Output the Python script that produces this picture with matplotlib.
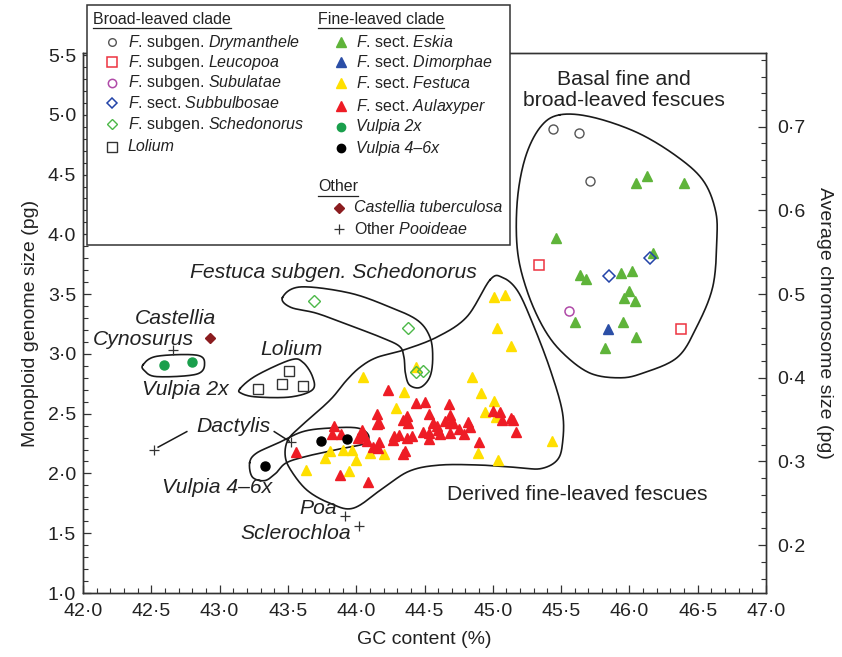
import numpy as np
import matplotlib
matplotlib.use('Agg')
import matplotlib.pyplot as plt
from matplotlib.lines import Line2D
from matplotlib.patches import Rectangle
from matplotlib.ticker import MultipleLocator, FuncFormatter

plt.rcParams['font.family'] = ['Liberation Sans', 'DejaVu Sans']
plt.rcParams['mathtext.fontset'] = 'custom'
plt.rcParams['mathtext.it'] = 'Liberation Sans:italic'
plt.rcParams['mathtext.rm'] = 'Liberation Sans'

# ---------------- data (GC content %, monoploid genome size pg) ----------------
drymanthele_x = [45.44, 45.63, 45.71]
drymanthele_y = [4.88, 4.85, 4.45]
leucopoa_x = [45.34, 46.38]
leucopoa_y = [3.74, 3.21]
subulatae_x = [45.56]
subulatae_y = [3.36]
subbulbosae_x = [45.85, 46.15]
subbulbosae_y = [3.65, 3.80]
schedonorus_x = [43.69, 44.38, 44.44, 44.49]
schedonorus_y = [3.44, 3.22, 2.85, 2.86]
lolium_x = [43.28, 43.46, 43.51, 43.61]
lolium_y = [2.71, 2.75, 2.86, 2.73]
eskia_x = [46.05, 46.13, 46.40, 45.46, 45.64, 45.68, 45.94, 46.02, 46.17, 46.00,
           45.96, 46.04, 45.60, 45.95, 46.05, 45.82]
eskia_y = [4.43, 4.49, 4.43, 3.97, 3.66, 3.63, 3.68, 3.69, 3.84, 3.53,
           3.47, 3.44, 3.27, 3.27, 3.14, 3.05]
dimorphae_x = [45.84]
dimorphae_y = [3.21]
festuca_x = [45.01, 45.09, 45.03, 45.13, 44.05, 44.44, 44.85, 44.35, 44.91, 45.01,
             44.29, 44.94, 45.02, 43.81, 43.90, 43.97, 43.77, 44.00, 44.10, 44.20,
             43.63, 43.95, 44.89, 45.04, 45.43]
festuca_y = [3.48, 3.49, 3.22, 3.07, 2.81, 2.89, 2.81, 2.68, 2.67, 2.61,
             2.55, 2.51, 2.47, 2.19, 2.20, 2.20, 2.13, 2.11, 2.17, 2.16,
             2.03, 2.02, 2.17, 2.11, 2.27]
aulaxyper_x = [44.23, 44.44, 44.50, 44.68, 44.15, 44.15, 44.17, 44.34, 44.37, 44.38,
               44.53, 44.56, 44.59, 44.65, 44.69, 44.69, 44.71, 44.82, 44.83, 44.75,
               44.79, 44.49, 44.53, 44.53, 44.60, 44.61, 44.69, 43.84, 43.82, 43.89,
               44.04, 44.01, 44.06, 44.08, 44.17, 44.12, 44.16, 44.28, 44.31, 44.27,
               44.37, 44.41, 44.36, 44.34, 44.90, 45.00, 45.05, 45.07, 45.13, 45.15,
               45.17, 43.88, 44.09, 44.05, 43.56]
aulaxyper_y = [2.70, 2.59, 2.60, 2.58, 2.50, 2.41, 2.42, 2.45, 2.48, 2.42,
               2.50, 2.42, 2.40, 2.44, 2.49, 2.42, 2.42, 2.43, 2.39, 2.37,
               2.33, 2.35, 2.34, 2.29, 2.36, 2.33, 2.34, 2.40, 2.33, 2.33,
               2.36, 2.30, 2.31, 2.27, 2.26, 2.22, 2.21, 2.31, 2.32, 2.28,
               2.30, 2.31, 2.19, 2.16, 2.26, 2.52, 2.51, 2.45, 2.46, 2.45,
               2.35, 1.99, 1.93, 2.33, 2.18]
vulpia2x_x = [42.59, 42.80]
vulpia2x_y = [2.91, 2.93]
vulpia46_x = [43.33, 43.74, 43.93]
vulpia46_y = [2.06, 2.27, 2.29]
castellia_x = [42.93]
castellia_y = [3.13]
pooideae_x = [42.66, 42.52, 43.52, 43.92, 44.02]
pooideae_y = [3.03, 2.20, 2.26, 1.64, 1.56]

x_ticks = [42.0, 42.5, 43.0, 43.5, 44.0, 44.5, 45.0, 45.5, 46.0, 46.5, 47.0]
y_ticks = [1.0, 1.5, 2.0, 2.5, 3.0, 3.5, 4.0, 4.5, 5.0, 5.5]
y2_ticks = [0.2, 0.3, 0.4, 0.5, 0.6, 0.7]
chrom_base = 7  # average chromosome size = monoploid genome size / 7

# group outlines (closed smooth curves, data coordinates)
basal_x = [45.49, 45.73, 46.06, 46.35, 46.54, 46.63, 46.64, 46.61, 46.49, 46.35,
           46.10, 45.93, 45.71, 45.51, 45.37, 45.25, 45.18, 45.18, 45.24, 45.35]
basal_y = [5.00, 4.98, 4.85, 4.65, 4.45, 4.20, 3.95, 3.56, 3.22, 2.97,
           2.84, 2.80, 2.84, 3.01, 3.22, 3.53, 3.87, 4.29, 4.65, 4.90]
derived_x = [44.98, 45.07, 45.18, 45.29, 45.42, 45.51, 45.51, 45.47, 45.35, 45.18,
             44.91, 44.61, 44.39, 44.20, 43.98, 43.81, 43.64, 43.52, 43.48, 43.50,
             43.59, 43.73, 43.83, 43.93, 44.03, 44.15, 44.34, 44.59, 44.81]
derived_y = [3.62, 3.64, 3.53, 3.26, 2.87, 2.51, 2.25, 2.11, 2.04, 2.05,
             2.07, 2.07, 2.02, 1.88, 1.71, 1.75, 1.86, 2.03, 2.15, 2.28,
             2.39, 2.53, 2.64, 2.78, 2.89, 2.97, 3.03, 3.14, 3.31]
sched_x = [43.46, 43.59, 43.95, 44.25, 44.45, 44.54, 44.56, 44.54, 44.47, 44.39,
           44.36, 44.35, 44.32, 44.20, 43.95, 43.71, 43.52]
sched_y = [3.47, 3.56, 3.51, 3.39, 3.28, 3.14, 2.97, 2.81, 2.72, 2.74,
           2.84, 2.97, 3.06, 3.13, 3.24, 3.34, 3.39]
lol_x = [43.15, 43.27, 43.52, 43.61, 43.68, 43.68, 43.52, 43.27, 43.16]
lol_y = [2.71, 2.82, 2.95, 2.93, 2.81, 2.70, 2.64, 2.64, 2.67]
v2_x = [42.44, 42.54, 42.83, 42.89, 42.83, 42.54, 42.45]
v2_y = [2.91, 2.98, 2.99, 2.92, 2.83, 2.81, 2.86]
v46_x = [43.22, 43.27, 43.42, 43.61, 43.81, 44.01, 44.09, 44.06, 43.90, 43.66,
         43.49, 43.41, 43.33, 43.24]
v46_y = [2.09, 2.17, 2.25, 2.35, 2.38, 2.38, 2.32, 2.25, 2.21, 2.15,
         2.09, 2.00, 1.94, 1.97]


def closed_curve(xs, ys, n=24):
    P = np.column_stack([np.asarray(xs) * 136.6, np.asarray(ys) * 119.6])
    N = len(P)
    t = np.linspace(0, 1, n, endpoint=False)[:, None]
    segs = []
    for i in range(N):
        p0, p1, p2, p3 = P[i - 1], P[i], P[(i + 1) % N], P[(i + 2) % N]
        segs.append(0.5 * (2 * p1 + (-p0 + p2) * t + (2 * p0 - 5 * p1 + 4 * p2 - p3) * t ** 2
                           + (-p0 + 3 * p1 - 3 * p2 + p3) * t ** 3))
    C = np.vstack(segs + [segs[0][:1]])
    return C[:, 0] / 136.6, C[:, 1] / 119.6


fig = plt.figure(figsize=(8.42, 6.57), dpi=100)
ax = fig.add_axes([83 / 842, 64 / 657, 683 / 842, 540 / 657])
ax.set_xlim(42.0, 47.0)
ax.set_ylim(1.0, 5.517)

TICK_FS = 14
fmt = FuncFormatter(lambda v, p: f"{v:.1f}".replace('.', '\u00b7'))
ax.set_xticks(x_ticks)
ax.set_yticks(y_ticks)
ax.xaxis.set_minor_locator(MultipleLocator(0.1))
ax.yaxis.set_minor_locator(MultipleLocator(0.1))
ax.xaxis.set_major_formatter(fmt)
ax.yaxis.set_major_formatter(fmt)
ax.tick_params(which='both', direction='in', top=False, right=False, color='#333333',
               labelsize=TICK_FS, labelcolor='#222222')
ax.tick_params(axis='x', which='both', pad=7)
ax.tick_params(axis='y', which='both', pad=5)
ax.tick_params(which='major', length=5.5, width=0.9)
ax.tick_params(which='minor', length=3.5, width=0.8)
for s in ax.spines.values():
    s.set_color('#333333')
    s.set_linewidth(1.0)
ax.set_xlabel('GC content (%)', fontsize=14, color='#222222', labelpad=8)
ax.set_ylabel('Monoploid genome size (pg)', fontsize=14, color='#222222', labelpad=6)

ax2 = ax.twinx()
ax2.set_ylim(1.0 / chrom_base, 5.517 / chrom_base)
ax2.set_yticks(y2_ticks)
ax2.yaxis.set_minor_locator(MultipleLocator(0.02))
ax2.yaxis.set_major_formatter(fmt)
ax2.tick_params(which='both', direction='in', color='#333333', labelsize=TICK_FS,
                labelcolor='#222222', pad=8)
ax2.tick_params(which='major', length=5.5, width=0.9)
ax2.tick_params(which='minor', length=3.5, width=0.8)
for s in ax2.spines.values():
    s.set_color('#333333')
    s.set_linewidth(1.0)
ax2.set_ylabel('Average chromosome size (pg)', fontsize=14, color='#222222',
               rotation=270, labelpad=20)

# outlines
for cx, cy in [(basal_x, basal_y), (derived_x, derived_y), (sched_x, sched_y),
               (lol_x, lol_y), (v2_x, v2_y), (v46_x, v46_y)]:
    xx, yy = closed_curve(cx, cy)
    ax.plot(xx, yy, color='#1a1a1a', lw=1.2, zorder=2)

# Dactylis leader lines
ax.plot([pooideae_x[1] + 0.03, 42.76], [pooideae_y[1] + 0.02, 2.35], color='#1a1a1a', lw=1.1, zorder=2)
ax.plot([43.40, pooideae_x[2] - 0.01], [2.35, pooideae_y[2] + 0.01], color='#1a1a1a', lw=1.1, zorder=2)

# markers
C_ESKIA = '#5fb43a'
C_DIM = '#2b4ea6'
C_FEST = '#ffdf00'
C_AUL = '#ee1c25'
C_V2 = '#1a9f4c'
C_CAST = '#8b1c1f'
C_DRY = '#555555'
C_LEU = '#ee3340'
C_SUBU = '#b04aa8'
C_SUBB = '#2344a8'
C_SCHED = '#4cb848'
C_LOL = '#333333'

tri = dict(marker='^', ms=7.8, ls='none', zorder=4)
ax.plot(festuca_x, festuca_y, color=C_FEST, mec=C_FEST, **tri)
ax.plot(aulaxyper_x, aulaxyper_y, color=C_AUL, mec=C_AUL, **tri)
ax.plot(eskia_x, eskia_y, color=C_ESKIA, mec=C_ESKIA, **tri)
ax.plot(dimorphae_x, dimorphae_y, color=C_DIM, mec=C_DIM, **tri)
ax.plot(drymanthele_x, drymanthele_y, marker='o', ms=6.5, mfc='white', mec=C_DRY, mew=1.0, ls='none', zorder=4)
ax.plot(leucopoa_x, leucopoa_y, marker='s', ms=7, mfc='white', mec=C_LEU, mew=1.1, ls='none', zorder=4)
ax.plot(subulatae_x, subulatae_y, marker='o', ms=6.5, mfc='white', mec=C_SUBU, mew=1.1, ls='none', zorder=4)
ax.plot(subbulbosae_x, subbulbosae_y, marker='D', ms=5.8, mfc='none', mec=C_SUBB, mew=1.1, ls='none', zorder=5)
ax.plot(schedonorus_x, schedonorus_y, marker='D', ms=5.8, mfc='none', mec=C_SCHED, mew=1.0, ls='none', zorder=5)
ax.plot(lolium_x, lolium_y, marker='s', ms=7, mfc='white', mec=C_LOL, mew=1.0, ls='none', zorder=4)
ax.plot(vulpia2x_x, vulpia2x_y, marker='o', ms=6.5, color=C_V2, ls='none', zorder=4)
ax.plot(vulpia46_x, vulpia46_y, marker='o', ms=6.5, color='black', ls='none', zorder=4)
ax.plot(castellia_x, castellia_y, marker='D', ms=5.5, color=C_CAST, ls='none', zorder=4)
ax.plot(pooideae_x, pooideae_y, marker='+', ms=6.5, mew=0.9, color='#333333', ls='none', zorder=4)

# group labels
lab = dict(fontsize=15.2, color='#222222', ha='center', va='center', zorder=6)
ax.text(45.96, 5.205, 'Basal fine and\nbroad-leaved fescues', linespacing=1.15, **lab)
ax.text(43.83, 3.68, 'Festuca subgen. Schedonorus', style='italic', **lab)
ax.text(42.68, 3.30, 'Castellia', style='italic', **lab)
ax.text(42.44, 3.12, 'Cynosurus', style='italic', **lab)
ax.text(42.75, 2.70, 'Vulpia 2x', style='italic', **lab)
ax.text(43.53, 3.04, 'Lolium', style='italic', **lab)
ax.text(43.10, 2.39, 'Dactylis', style='italic', **lab)
ax.text(42.98, 1.88, 'Vulpia 4\u20136x', style='italic', **lab)
ax.text(43.72, 1.71, 'Poa', style='italic', **lab)
ax.text(43.56, 1.50, 'Sclerochloa', style='italic', **lab)
ax.text(45.62, 1.82, 'Derived fine-leaved fescues', **lab)

# ---------------- legend (figure pixel layout) ----------------
W, H = 842.0, 657.0
def fx(px):
    return px / W
def fy(py):
    return 1 - py / H

fig.patches.append(Rectangle((fx(87), fy(245)), (510 - 87) / W, (245 - 5) / H,
                             transform=fig.transFigure, facecolor='white',
                             edgecolor='#333333', lw=1.1, zorder=10))

LF = 11.5
def leg_text(px, py, s, **kw):
    return fig.text(fx(px), fy(py), s, fontsize=LF, color='#222222', ha='left',
                    va='center', zorder=12, **kw)

def leg_marker(px, py, **kw):
    fig.lines.append(Line2D([fx(px)], [fy(py)], transform=fig.transFigure,
                            ls='none', zorder=12, **kw))

headers = [(93, 19, 'Broad-leaved clade'), (318, 19, 'Fine-leaved clade'), (318, 187, 'Other')]
hdr_artists = [leg_text(px, py, s) for px, py, s in headers]

left_rows = [
    (42, r'$F$. subgen. $Drymanthele$', dict(marker='o', ms=5.5, mfc='white', mec=C_DRY, mew=1.0)),
    (62, r'$F$. subgen. $Leucopoa$', dict(marker='s', ms=6.5, mfc='white', mec=C_LEU, mew=1.1)),
    (83, r'$F$. subgen. $Subulatae$', dict(marker='o', ms=6, mfc='white', mec=C_SUBU, mew=1.1)),
    (103, r'$F$. sect. $Subbulbosae$', dict(marker='D', ms=5.5, mfc='white', mec=C_SUBB, mew=1.1)),
    (124, r'$F$. subgen. $Schedonorus$', dict(marker='D', ms=5.5, mfc='white', mec=C_SCHED, mew=1.0)),
    (147, 'Lolium', dict(marker='s', ms=6.5, mfc='white', mec=C_LOL, mew=1.0)),
]
for py, s, mk in left_rows:
    leg_marker(112, py, **mk)
    if s == 'Lolium':
        leg_text(128, py, s, style='italic')
    else:
        leg_text(128, py, s)

right_rows = [
    (42, r'$F$. sect. $Eskia$', dict(marker='^', ms=6.5, color=C_ESKIA), None),
    (62, r'$F$. sect. $Dimorphae$', dict(marker='^', ms=6.5, color=C_DIM), None),
    (83, r'$F$. sect. $Festuca$', dict(marker='^', ms=6.5, color=C_FEST), None),
    (106, r'$F$. sect. $Aulaxyper$', dict(marker='^', ms=6.5, color=C_AUL), None),
    (127, 'Vulpia 2x', dict(marker='o', ms=6, color=C_V2), 'italic'),
    (148, 'Vulpia 4\u20136x', dict(marker='o', ms=6, color='black'), 'italic'),
]
for py, s, mk, st in right_rows:
    leg_marker(341, py, **mk)
    if st:
        leg_text(356, py, s, style=st)
    else:
        leg_text(356, py, s)

leg_marker(339, 208, marker='D', ms=5.5, color=C_CAST)
leg_text(354, 208, 'Castellia tuberculosa', style='italic')
leg_marker(339, 229, marker='+', ms=7, mew=0.9, color='#333333')
leg_text(354, 229, r'Other $Pooideae$')

# underline headers
fig.canvas.draw()
inv = fig.transFigure.inverted()
for t in hdr_artists:
    bb = t.get_window_extent()
    (x0, y0), (x1, y1) = inv.transform([[bb.x0, bb.y0], [bb.x1, bb.y1]])
    fig.lines.append(Line2D([x0, x1], [y0 - 0.002, y0 - 0.002], transform=fig.transFigure,
                            color='#222222', lw=0.9, zorder=12))

fig.savefig('out.png', dpi=100)
